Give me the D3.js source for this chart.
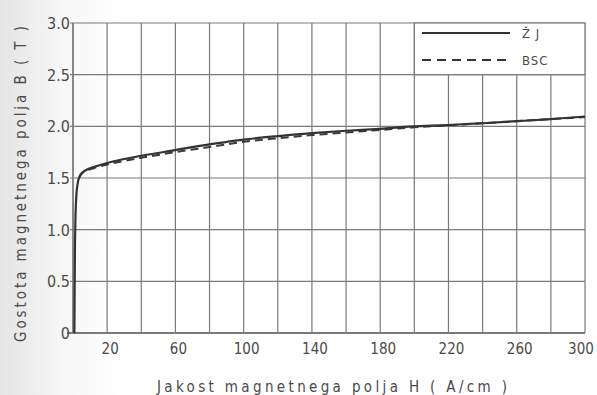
<!DOCTYPE html>
<html>
<head>
<meta charset="utf-8">
<script src="https://cdn.jsdelivr.net/npm/d3@7"></script>
<style>
  body { margin: 0; background: #fff; }
  svg text { font-family: 'DejaVu Sans Condensed', 'DejaVu Sans', sans-serif; fill: #4a4a4a; }
</style>
</head>
<body>
<div id="chart"></div>
<script>
// B-H curves
const hZJ = [0.8, 1.0, 1.3, 1.8, 2.5, 3.5, 5, 8, 12, 20, 40, 60, 80, 100, 120, 140, 160, 180, 200, 220, 240, 260, 280, 300]
const bZJ = [0, 0.5, 1.0, 1.28, 1.42, 1.5, 1.545, 1.58, 1.605, 1.645, 1.715, 1.77, 1.825, 1.872, 1.905, 1.935, 1.957, 1.976, 2.0, 2.013, 2.03, 2.05, 2.07, 2.095]
const hBSC = [3.5, 5, 8, 12, 20, 40, 60, 80, 100, 120, 140, 160, 180, 200, 220, 240, 260, 280, 300]
const bBSC = [1.5, 1.54, 1.57, 1.595, 1.63, 1.695, 1.75, 1.80, 1.85, 1.885, 1.915, 1.94, 1.965, 1.99, 2.01, 2.03, 2.05, 2.07, 2.09]

const xGrid = d3.range(0, 301, 20)
const xTicks = [20, 60, 100, 140, 180, 220, 260, 300]
const yTicks = [0, 0.5, 1.0, 1.5, 2.0, 2.5, 3.0]
const yTickLabels = ['0', '0.5', '1.0', '1.5', '2.0', '2.5', '3.0']
const legendNames = ['Ž J', 'BSC']

const width = 597
const height = 395
const plot = { left: 73, right: 585, top: 23, bottom: 333 }

const scaleX = d3.scaleLinear().domain([0, 300]).range([plot.left, plot.right])
const scaleY = d3.scaleLinear().domain([0, 3]).range([plot.bottom, plot.top])

const svg = d3.select('#chart').append('svg')
	.attr('width', width)
	.attr('height', height)

// scanner shading on the left edge
const grad = svg.append('defs').append('linearGradient')
	.attr('id', 'shade')
grad.append('stop').attr('offset', '0').attr('stop-color', '#e4e4e4')
grad.append('stop').attr('offset', '0.1').attr('stop-color', '#f6f6f6')
grad.append('stop').attr('offset', '0.2').attr('stop-color', '#fff')
svg.append('rect').attr('width', width).attr('height', height).attr('fill', 'url(#shade)')

const gridColor = '#7a7a7a'

// grid
svg.append('g').selectAll('line.v')
	.data(xGrid)
	.join('line')
	.attr('x1', d => scaleX(d)).attr('x2', d => scaleX(d))
	.attr('y1', d => d > 200 && d < 300 ? scaleY(2.5) : scaleY(3))
	.attr('y2', scaleY(0))
	.attr('stroke', gridColor)
	.attr('stroke-width', d => d === 0 ? 1.8 : 1.2)

svg.append('g').selectAll('line.h')
	.data(yTicks)
	.join('line')
	.attr('x1', d => d === 0 ? scaleX(0) - 6 : scaleX(0) - 3)
	.attr('x2', scaleX(300))
	.attr('y1', d => scaleY(d)).attr('y2', d => scaleY(d))
	.attr('stroke', gridColor)
	.attr('stroke-width', d => d === 0 ? 1.8 : 1.2)

// legend cell
svg.append('rect')
	.attr('x', scaleX(200)).attr('y', scaleY(3))
	.attr('width', scaleX(300) - scaleX(200))
	.attr('height', scaleY(2.5) - scaleY(3))
	.attr('fill', '#fff')
	.attr('stroke', gridColor)
	.attr('stroke-width', 1.2)

// tick labels
svg.append('g').selectAll('text')
	.data(yTicks)
	.join('text')
	.attr('x', 70)
	.attr('y', d => scaleY(d) + 6)
	.attr('text-anchor', 'end')
	.attr('font-size', 16)
	.text((d, i) => yTickLabels[i])

svg.append('g').selectAll('text')
	.data(xTicks)
	.join('text')
	.attr('x', d => Math.min(scaleX(d) + 3, 581))
	.attr('y', 354)
	.attr('text-anchor', 'middle')
	.attr('font-size', 15)
	.text(d => d)

// axis titles
svg.append('text')
	.attr('x', 157)
	.attr('y', 392)
	.attr('font-size', 15)
	.attr('textLength', 350)
	.attr('lengthAdjust', 'spacing')
	.text('Jakost magnetnega polja H ( A/cm )')

svg.append('text')
	.attr('transform', 'translate(26, 342) rotate(-90)')
	.attr('font-size', 15)
	.attr('textLength', 316)
	.attr('lengthAdjust', 'spacing')
	.text('Gostota magnetnega polja B ( T )')

// curves
const line = d3.line()
	.x(d => scaleX(d[0]))
	.y(d => scaleY(d[1]))
	.curve(d3.curveMonotoneX)

svg.append('path')
	.datum(hBSC.map((h, i) => [h, bBSC[i]]))
	.attr('d', line)
	.attr('fill', 'none')
	.attr('stroke', '#3a3a3a')
	.attr('stroke-width', 2)
	.attr('stroke-dasharray', '8 5')

svg.append('path')
	.datum(hZJ.map((h, i) => [h, bZJ[i]]))
	.attr('d', d3.line().x(d => scaleX(d[0])).y(d => scaleY(d[1])).curve(d3.curveMonotoneY))
	.attr('fill', 'none')
	.attr('stroke', '#333')
	.attr('stroke-width', 2.2)

// legend
const legend = svg.append('g').selectAll('g')
	.data(legendNames)
	.join('g')
	.attr('transform', (d, i) => `translate(422, ${33 + i * 27})`)

legend.append('line')
	.attr('x1', 0).attr('x2', 88)
	.attr('stroke', '#333')
	.attr('stroke-width', 2)
	.attr('stroke-dasharray', (d, i) => i === 0 ? null : '9 6')

legend.append('text')
	.attr('x', 100)
	.attr('y', 5)
	.attr('font-size', 13)
	.attr('letter-spacing', 1)
	.text(d => d)
</script>
</body>
</html>
